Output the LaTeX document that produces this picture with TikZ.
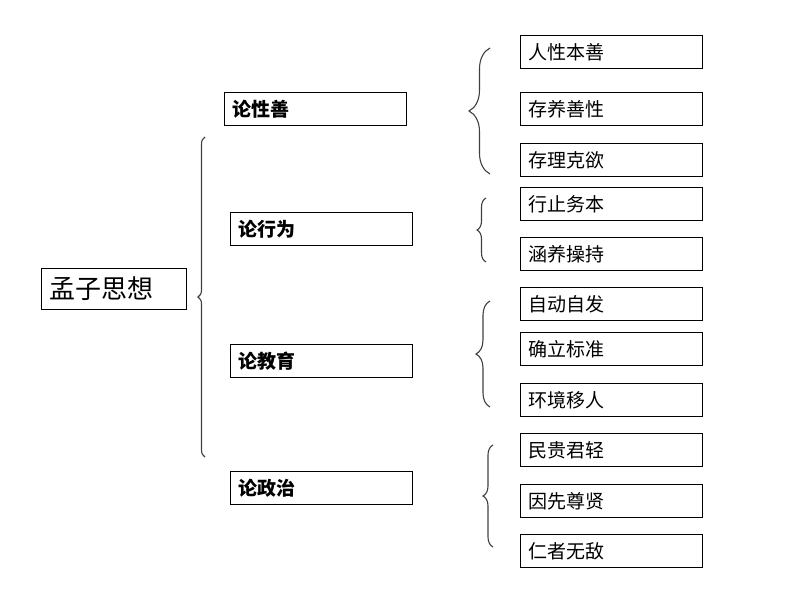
\documentclass[tikz,border=0pt]{standalone}
\usepackage{fontspec}
\newfontfamily\cjk{Noto Sans CJK SC}
\usetikzlibrary{decorations.pathreplacing}
\tikzset{
  box/.style={draw, line width=1pt, anchor=north west, minimum height=33pt, inner xsep=8pt, inner ysep=0pt, align=left},
  leaf/.style={box, text width=166pt, font=\cjk\fontsize{19}{19}\selectfont},
  topic/.style={box, text width=166pt, font=\cjk\bfseries\fontsize{19}{19}\selectfont},
  curly/.style={draw=black!75, line width=1.1pt, decorate},
}
\begin{document}
\begin{tikzpicture}[x=1pt,y=-1pt]
\useasboundingbox (0,0) rectangle (800,600);
\node[box, minimum height=41pt, text width=129pt, font=\cjk\fontsize{26}{26}\selectfont] (root) at (41,268) {孟子思想};
\node[topic] (xing) at (224,92) {论性善};
\node[topic] (xingwei) at (230,212) {论行为};
\node[topic] (jiaoyu) at (230,344) {论教育};
\node[topic] (zhengzhi) at (230,471) {论政治};
\foreach \y/\t [count=\i] in {35/人性本善,92/存养善性,143/存理克欲,187/行止务本,237/涵养操持,287/自动自发,332/确立标准,383/环境移人,433/民贵君轻,484/因先尊贤,534/仁者无敌}
  \node[leaf] (l\i) at (520,\y) {\t};
\draw[curly, decoration={brace, amplitude=7pt}] (205,457) -- (205,137);
\draw[curly, decoration={brace, amplitude=21pt}] (490,174) -- (490,48);
\draw[curly, decoration={brace, amplitude=9pt}] (486,262) -- (486,198);
\draw[curly, decoration={brace, amplitude=14pt}] (490,407) -- (490,301);
\draw[curly, decoration={brace, amplitude=10pt}] (493,547) -- (493,445);
\end{tikzpicture}
\end{document}
